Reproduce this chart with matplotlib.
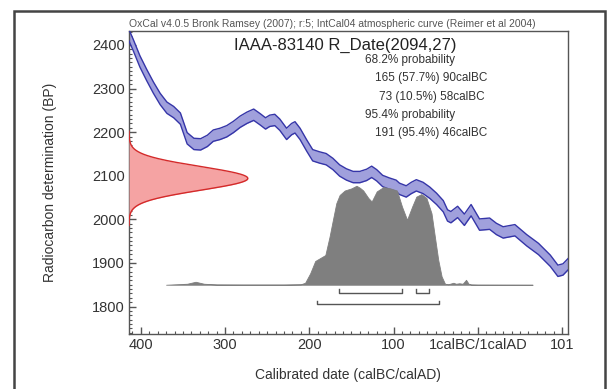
#!/usr/bin/env python3

# ======================= Libraries =======================
import numpy as np
import matplotlib
matplotlib.use("Agg")
import matplotlib.pyplot as plt
from matplotlib.patches import Rectangle
from matplotlib.ticker import MultipleLocator

plt.rcParams["font.family"] = ["Liberation Sans", "DejaVu Sans"]

# ======================= Data =======================

# Calibration curve (year: negative = BC), centre in BP
curveYears = [-414, -409, -401, -393, -385, -377, -369, -361, -353, -345,
              -337, -329, -321, -314, -306, -298, -290, -282, -274, -266,
              -258, -252, -247, -241, -235, -227, -221, -217, -211, -203,
              -196, -188, -180, -172, -164, -156, -148, -140, -132, -126,
              -120, -113, -105, -97, -93, -85, -79, -73, -65, -57,
              -49, -41, -36, -32, -24, -16, -8, 2, 14, 22,
              30, 44, 58, 72, 86, 95, 101, 107]
curveBP = [2422, 2400, 2362, 2331, 2302, 2276, 2256, 2246, 2231, 2186,
           2173, 2172, 2180, 2192, 2196, 2202, 2212, 2224, 2233, 2240,
           2229, 2220, 2226, 2228, 2217, 2196, 2207, 2211, 2196, 2169,
           2147, 2142, 2138, 2127, 2112, 2103, 2097, 2097, 2102, 2109,
           2101, 2088, 2082, 2077, 2070, 2064, 2072, 2078, 2072, 2061,
           2047, 2030, 2009, 2005, 2017, 1999, 2021, 1988, 1990, 1978,
           1970, 1975, 1952, 1932, 1905, 1882, 1885, 1897]
curveHalfWidth = 13

# Measured date
dateMean = 2094
dateSigma = 27

# Calibrated probability (relative height)
probYears = [-370, -345, -335, -325, -310, -280, -230, -210, -205, -199,
             -193, -187, -181, -176, -172, -168, -164, -158, -150, -144,
             -140, -136, -130, -126, -120, -112, -104, -96, -90, -84,
             -78, -73, -67, -61, -55, -51, -47, -43, -39, -35,
             -29, -26, -22, -18, -14, -11, -8, 0, 65]
probValues = [0.0, 0.01, 0.03, 0.01, 0.003, 0.002, 0.002, 0.005, 0.02, 0.115,
              0.24, 0.27, 0.30, 0.485, 0.656, 0.823, 0.907, 0.952, 0.974, 1.0,
              0.98, 0.952, 0.877, 0.841, 0.943, 0.987, 0.974, 0.952, 0.789, 0.656,
              0.789, 0.890, 0.916, 0.877, 0.722, 0.485, 0.251, 0.084, 0.01, 0.005,
              0.02, 0.01, 0.015, 0.01, 0.05, 0.01, 0.003, 0.001, 0.0]

# Ranges
range68 = [(-165, -90), (-73, -58)]
range95 = [(-191, -46)]

# Ticks
xTicks = [-400, -300, -200, -100, 0, 100]
xTickLabels = ["400", "300", "200", "100", "1calBC/1calAD", "101"]
yTicks = [1800, 1900, 2000, 2100, 2200, 2300, 2400]

# Texts
headerText = "OxCal v4.0.5 Bronk Ramsey (2007); r:5; IntCal04 atmospheric curve (Reimer et al 2004)"
titleText = "IAAA-83140 R_Date(2094,27)"
summaryLines = ["68.2% probability", "165 (57.7%) 90calBC", "73 (10.5%) 58calBC",
                "95.4% probability", "191 (95.4%) 46calBC"]

# ======================= Figure =======================
W, H = 611, 389
fig = plt.figure(figsize=(W / 100, H / 100), dpi=100)


def fx(px):
    return px / W


def fy(py):
    return 1 - py / H


ax = fig.add_axes([fx(129), fy(334), fx(568 - 129), (334 - 31) / H])
ax.set_xlim(-414, 107)
ax.set_ylim(1737, 2432)

# Outer frame
fig.patches.append(Rectangle((fx(14), fy(395)), fx(605 - 14), (395 - 11) / H,
                             transform=fig.transFigure, fill=False,
                             edgecolor="#444444", linewidth=1.8))

# Calibration curve band
lower = [c - curveHalfWidth for c in curveBP]
upper = [c + curveHalfWidth for c in curveBP]
ax.fill_between(curveYears, lower, upper, color="#a0a0dc", linewidth=0, zorder=2)
ax.plot(curveYears, lower, color="#3535a8", linewidth=1.0, zorder=3)
ax.plot(curveYears, upper, color="#3535a8", linewidth=1.0, zorder=3)

# Measured date distribution on the y axis
bpGrid = np.linspace(dateMean - 4 * dateSigma, dateMean + 4 * dateSigma, 300)
density = np.exp(-0.5 * ((bpGrid - dateMean) / dateSigma) ** 2)
xLeft = -414
xPeak = 141
ax.fill_betweenx(bpGrid, xLeft, xLeft + density * xPeak, color="#f5a3a3", linewidth=0, zorder=4)
ax.plot(xLeft + density * xPeak, bpGrid, color="#d42a2a", linewidth=1.0, zorder=5)

# Calibrated distribution
probBase = 1850
probScale = 227
probTop = [probBase + v * probScale for v in probValues]
ax.fill_between(probYears, probBase, probTop, color="#7f7f7f", linewidth=0.6,
                edgecolor="#7f7f7f", zorder=6)

# Range brackets
for (a, b) in range68:
    ax.plot([a, a, b, b], [1840, 1832, 1832, 1840], color="#555555", linewidth=1.0, zorder=6)
for (a, b) in range95:
    ax.plot([a, a, b, b], [1813, 1806, 1806, 1813], color="#555555", linewidth=1.0, zorder=6)

# Axes style
for s in ax.spines.values():
    s.set_color("#555555")
    s.set_linewidth(1.0)
ax.set_xticks(xTicks)
ax.set_xticklabels(xTickLabels)
ax.set_yticks(yTicks)
ax.xaxis.set_minor_locator(MultipleLocator(10))
ax.yaxis.set_minor_locator(MultipleLocator(10))
ax.tick_params(which="both", direction="in", colors="#555555", labelcolor="#333333",
               labelsize=10.5, pad=3)
ax.tick_params(which="major", length=5, width=1.0)
ax.tick_params(which="minor", length=2.5, width=0.8)

# Texts
fig.text(fx(50), fy(182), "Radiocarbon determination (BP)", rotation=90,
         ha="center", va="center", fontsize=10, color="#333333")
fig.text(fx(348), fy(375), "Calibrated date (calBC/calAD)",
         ha="center", va="center", fontsize=10, color="#333333")
fig.text(fx(129), fy(24), headerText, ha="left", va="center", fontsize=7.5, color="#555555")
fig.text(fx(234), fy(45), titleText, ha="left", va="center", fontsize=12, color="#222222")
summaryX = [365, 375, 379, 365, 375]
summaryY = [60, 78, 97, 115, 133]
for t, x, y in zip(summaryLines, summaryX, summaryY):
    fig.text(fx(x), fy(y), t, ha="left", va="center", fontsize=8.5, color="#333333")

fig.savefig("out.png", dpi=100)
